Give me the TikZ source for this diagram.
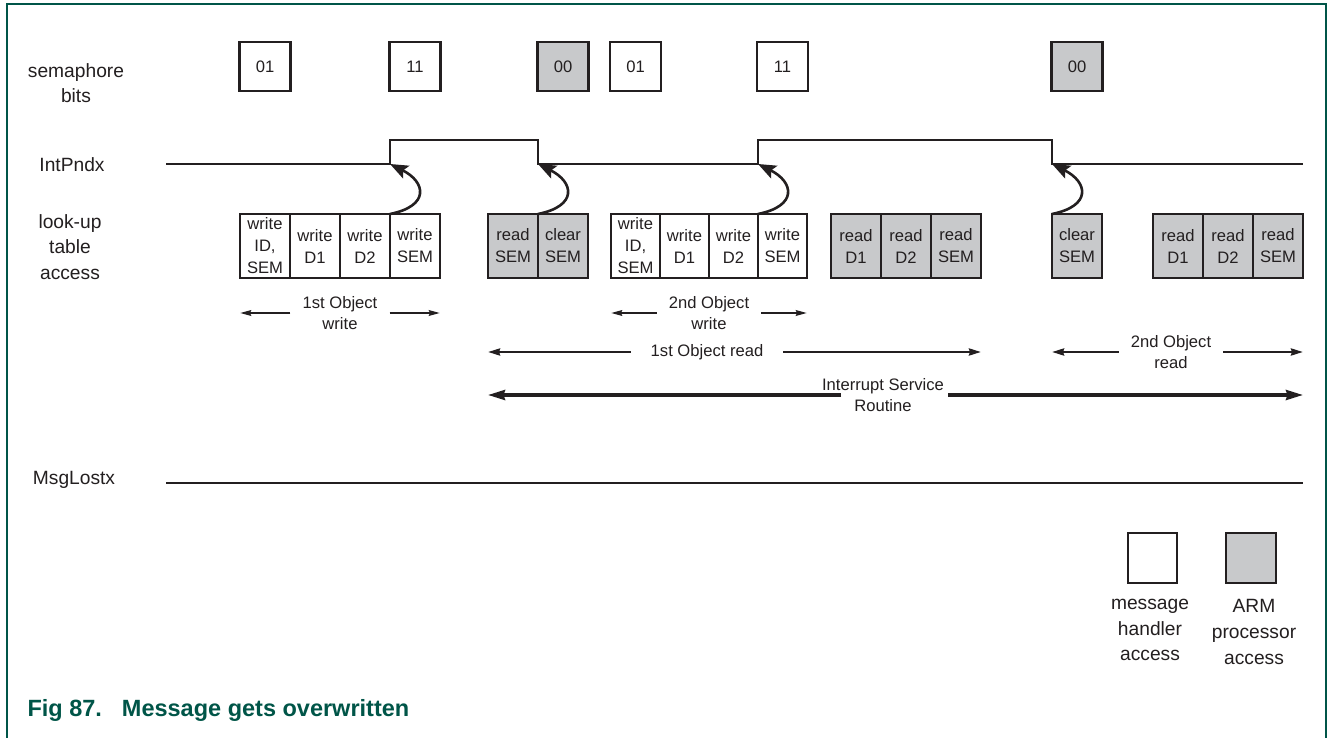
\documentclass[tikz,border=0pt]{standalone}
\usepackage{fontspec}
\setmainfont{Liberation Sans}
\usetikzlibrary{arrows.meta,positioning}
\definecolor{framegreen}{RGB}{0,85,72}
\definecolor{armgrey}{RGB}{200,201,203}
\definecolor{ink}{RGB}{35,31,32}

\begin{document}
\begin{tikzpicture}[x=1pt,y=-1pt,
  lbl/.style={text=ink,align=center,font=\fontsize{19.2}{25.7}\selectfont},
  cell/.style={draw=ink,line width=2.8pt,minimum width=50pt,minimum height=64pt,
    inner sep=0pt,outer sep=0pt,align=center,text=ink,font=\fontsize{16.6}{22}\selectfont},
  mh/.style={cell,fill=white},
  arm/.style={cell,fill=armgrey},
  sem/.style={cell,minimum width=51pt,minimum height=49pt,font=\fontsize{16.6}{20}\selectfont},
  sig/.style={draw=ink,line width=2.8pt,line join=miter},
  trig/.style={draw=ink,line width=2.6pt,-{Stealth[length=18pt,width=14pt,inset=3.5pt]}},
  span/.style={text=ink,align=center,inner xsep=12pt,inner ysep=0pt,font=\fontsize{16.6}{21}\selectfont},
  spanA/.style={draw=ink,line width=2.2pt,-{Stealth[length=11pt,width=5.5pt,inset=1pt]}},
  spanB/.style={draw=ink,line width=2.5pt,-{Stealth[length=12pt,width=7pt,inset=1pt]}},
  spanC/.style={draw=ink,line width=3.2pt,-{Stealth[length=17pt,width=10pt,inset=1.5pt]}}]
  \useasboundingbox (0,0) rectangle (1328,738);
  \fill[white] (0,0) rectangle (1328,738);
  \draw[framegreen,line width=1.5pt] (7,738) -- (7,4) -- (1326,4) -- (1326,738);

  \node[lbl] (semlbl) at (76,83) {semaphore\\bits};
  \node[lbl] (intlbl) at (72,165) {IntPndx};
  \node[lbl] (lutlbl) at (70,247) {look-up\\table\\access};
  \node[lbl] (lostlbl) at (74,480) {MsgLostx};

  \node[mh] (w1) at (265,246) {write\\ID,\\SEM};
  \node[mh,right=0pt of w1] (w2) {write\\D1};
  \node[mh,right=0pt of w2] (w3) {write\\D2};
  \node[mh,right=0pt of w3] (w4) {write\\SEM};
  \node[arm] (g1) at (513,246) {read\\SEM};
  \node[arm,right=0pt of g1] (g2) {clear\\SEM};
  \node[mh,minimum width=49pt] (x1) at (635.5,246) {write\\ID,\\SEM};
  \node[mh,minimum width=49pt,right=0pt of x1] (x2) {write\\D1};
  \node[mh,minimum width=49pt,right=0pt of x2] (x3) {write\\D2};
  \node[mh,minimum width=49pt,right=0pt of x3] (x4) {write\\SEM};
  \node[arm] (r1) at (856,246) {read\\D1};
  \node[arm,right=0pt of r1] (r2) {read\\D2};
  \node[arm,right=0pt of r2] (r3) {read\\SEM};
  \node[arm] (c1) at (1077,246) {clear\\SEM};
  \node[arm] (s1) at (1178,246) {read\\D1};
  \node[arm,right=0pt of s1] (s2) {read\\D2};
  \node[arm,right=0pt of s2] (s3) {read\\SEM};

  \coordinate (semrow) at (0,66.5);
  \node[sem,fill=white] (sb1) at (w1 |- semrow) {01};
  \node[sem,fill=white] (sb2) at (w4 |- semrow) {11};
  \node[sem,fill=armgrey] (sb3) at (g2 |- semrow) {00};
  \node[sem,fill=white] (sb4) at (x1 |- semrow) {01};
  \node[sem,fill=white] (sb5) at (x4 |- semrow) {11};
  \node[sem,fill=armgrey] (sb6) at (c1 |- semrow) {00};

  \coordinate (lo) at (0,164);
  \coordinate (hi) at (0,140);
  \draw[sig] (166,164) -- (w4.west |- lo) coordinate (e1) -- (w4.west |- hi)
    -- (g2.west |- hi) -- (g2.west |- lo) coordinate (e2)
    -- (x4.west |- lo) coordinate (e3) -- (x4.west |- hi)
    -- (c1.west |- hi) -- (c1.west |- lo) coordinate (e4) -- (s3.east |- lo);
  \draw[trig] (w4.north west) .. controls +(40,-8) and +(36,18) .. (e1);
  \draw[trig] (g2.north west) .. controls +(40,-8) and +(36,18) .. (e2);
  \draw[trig] (x4.north west) .. controls +(40,-8) and +(36,18) .. (e3);
  \draw[trig] (c1.north west) .. controls +(40,-8) and +(36,18) .. (e4);

  \coordinate (row1) at (0,313);
  \coordinate (row2) at (0,352);
  \coordinate (row3) at (0,395);
  \node[span] (ow1) at (340,313) {1st Object\\write};
  \draw[spanA] (ow1.west) -- (w1.west |- row1);
  \draw[spanA] (ow1.east) -- (w4.east |- row1);
  \node[span] (ow2) at (709,313) {2nd Object\\write};
  \draw[spanA] (ow2.west) -- (x1.west |- row1);
  \draw[spanA] (ow2.east) -- (x4.east |- row1);
  \node[span,inner xsep=20pt] (or1) at (707,352) {1st Object read};
  \draw[spanB] (or1.west) -- (g1.west |- row2);
  \draw[spanB] (or1.east) -- (r3.east |- row2);
  \node[span] (or2) at (1171,352) {2nd Object\\read};
  \draw[spanB] (or2.west) -- (c1.west |- row2);
  \draw[spanB] (or2.east) -- (s3.east |- row2);
  \node[span] (isr) at (883,395) {Interrupt Service\\Routine};
  \draw[spanC] ([xshift=-42pt]isr.center) -- (g1.west |- row3);
  \draw[spanC] ([xshift=65pt]isr.center) -- (s3.east |- row3);

  \draw[sig] (166,483) -- (s3.east |- 0,483);

  \node[mh,minimum width=49pt,minimum height=50pt] (keymh) at (1152.5,558) {};
  \node[arm,minimum width=50pt,minimum height=50pt] (keyarm) at (1251,558) {};
  \node[lbl] (keymhtxt) at (1150,630) {message\\handler\\access};
  \node[lbl] (keyarmtxt) at (1254,632) {ARM\\processor\\access};

  \node[anchor=base west,text=framegreen,font=\fontsize{23.5}{28}\selectfont\bfseries]
    (caption) at (24,716) {Fig 87.\hspace{20pt}Message gets overwritten};
\end{tikzpicture}
\end{document}
